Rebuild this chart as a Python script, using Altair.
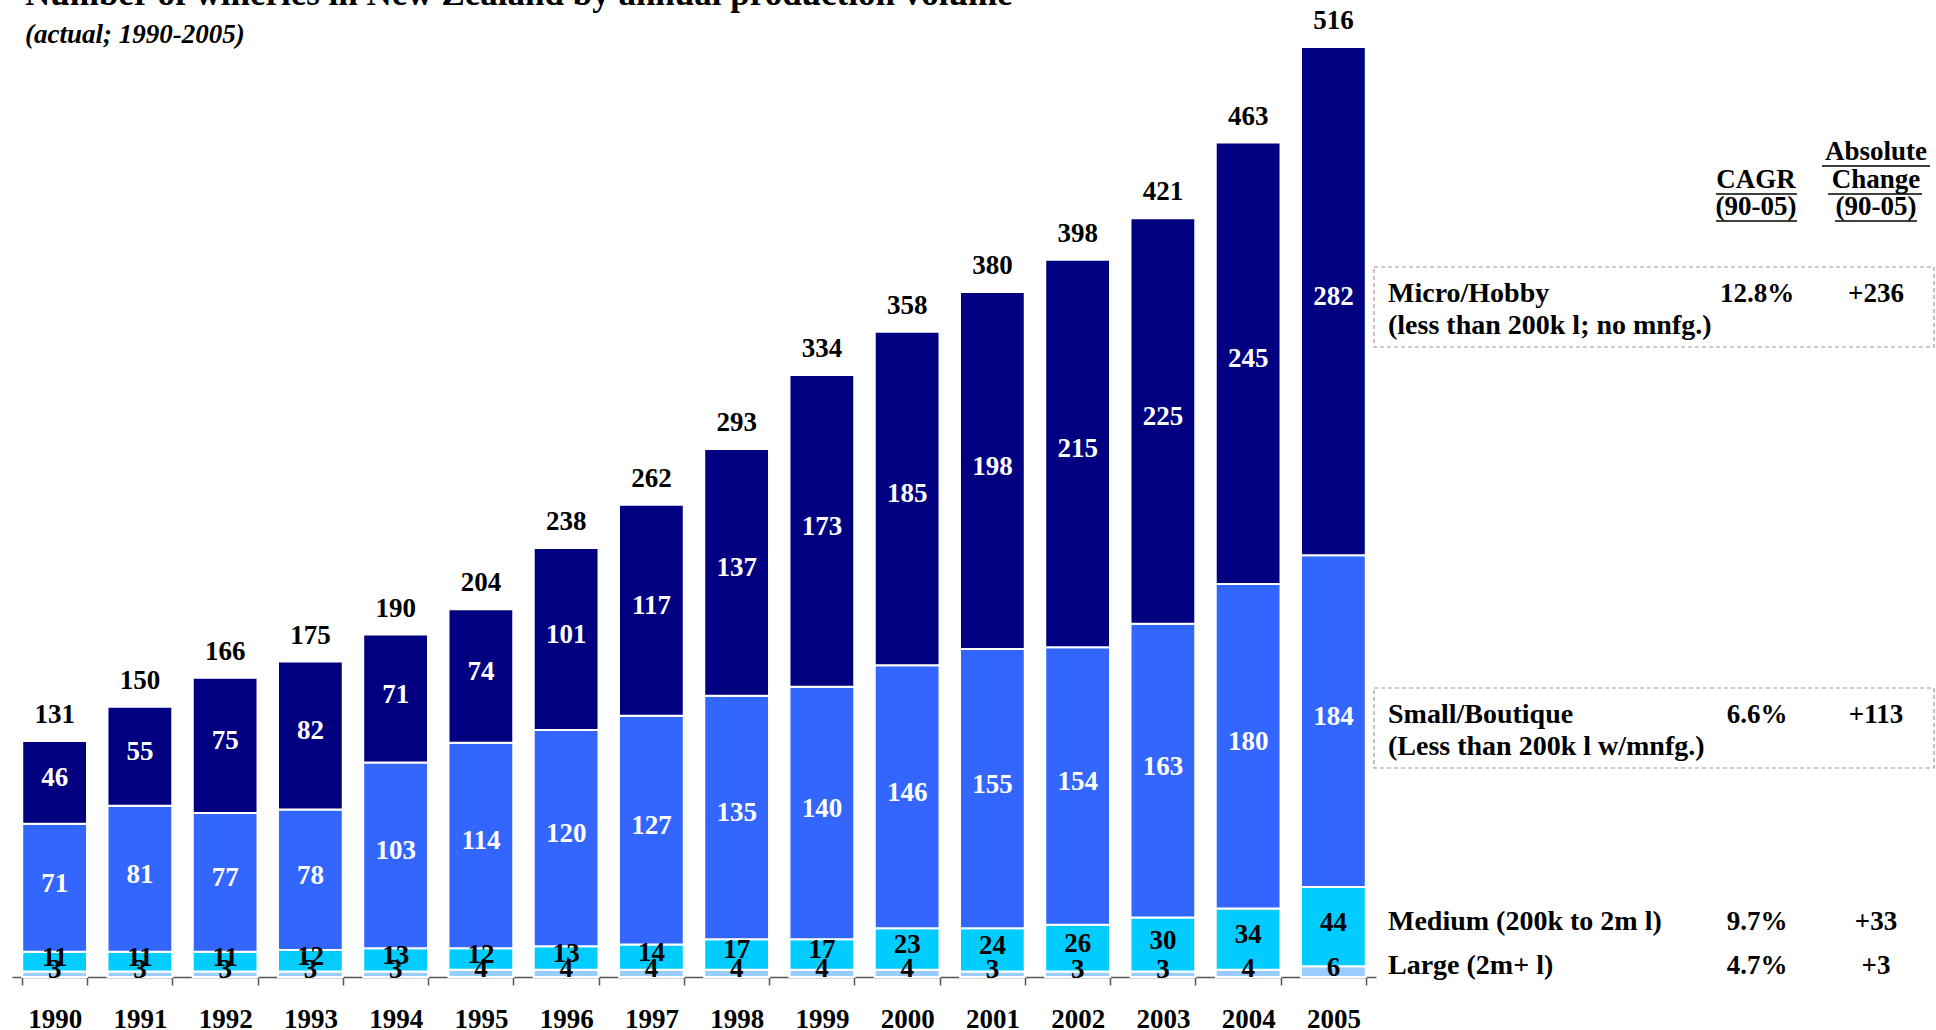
import altair as alt
import pandas as pd

# ---------------- data ----------------
years = [str(y) for y in range(1990, 2006)]
large = [3, 3, 3, 3, 3, 4, 4, 4, 4, 4, 4, 3, 3, 3, 4, 6]
medium = [11, 11, 11, 12, 13, 12, 13, 14, 17, 17, 23, 24, 26, 30, 34, 44]
small = [71, 81, 77, 78, 103, 114, 120, 127, 135, 140, 146, 155, 154, 163, 180, 184]
micro = [46, 55, 75, 82, 71, 74, 101, 117, 137, 173, 185, 198, 215, 225, 245, 282]
totals = [131, 150, 166, 175, 190, 204, 238, 262, 293, 334, 358, 380, 398, 421, 463, 516]

segments = ["Large", "Medium", "Small", "Micro"]
seg_colors = ["#99CCFF", "#00CCFF", "#3366FF", "#000080"]
seg_text_colors = ["black", "black", "white", "white"]

title_text = "Number of wineries in New Zealand by annual production volume"
subtitle_text = "(actual; 1990-2005)"

legend_names = ["Micro/Hobby", "Small/Boutique", "Medium (200k to 2m l)", "Large (2m+ l)"]
legend_sub = ["(less than 200k l; no mnfg.)", "(Less than 200k l w/mnfg.)", "", ""]
cagr = ["12.8%", "6.6%", "9.7%", "4.7%"]
abs_change = ["+236", "+113", "+33", "+3"]

FONT = "Liberation Serif"

# ---------------- layout (pixels) ----------------
PL, PT, W, H = 12, 47, 1364, 930
PR = 1936 - PL - W
PB = 1030 - PT - H


def px(x):
    return x - PL


def py(y):
    return y - PT


# ---------------- build tables ----------------
rows = []
series = [large, medium, small, micro]
for i, yr in enumerate(years):
    base = 0
    for s, name in enumerate(segments):
        v = series[s][i]
        rows.append({"year": yr, "segment": name, "value": v, "y0": base,
                     "y1": base + v, "mid": base + v / 2,
                     "tcolor": seg_text_colors[s]})
        base += v
df = pd.DataFrame(rows)
tot = pd.DataFrame({"year": years, "total": totals})

xenc = alt.X("year:O", sort=years,
             scale=alt.Scale(paddingInner=0.24, paddingOuter=0.12),
             axis=alt.Axis(title=None, labelAngle=0, labelFont=FONT,
                           labelFontWeight="bold", labelFontSize=27,
                           labelColor="black", domainColor="#555555",
                           tickColor="#555555", tickSize=8, tickBand="extent",
                           labelPadding=21, domainWidth=1.5, tickWidth=1.5,
                           grid=False))
yscale = alt.Scale(domain=[0, 516], nice=False, zero=True)

bars = alt.Chart(df).mark_bar(stroke="white", strokeWidth=2).encode(
    x=xenc,
    y=alt.Y("y0:Q", scale=yscale, axis=None),
    y2="y1:Q",
    color=alt.Color("segment:N", scale=alt.Scale(domain=segments, range=seg_colors), legend=None),
)

seg_labels = alt.Chart(df).mark_text(font=FONT, fontWeight="bold", fontSize=27,
                                     baseline="middle", dy=-4).encode(
    x=xenc,
    y=alt.Y("mid:Q", scale=yscale, axis=None),
    text="value:Q",
    color=alt.Color("tcolor:N", scale=None),
)

tot_labels = alt.Chart(tot).mark_text(font=FONT, fontWeight="bold", fontSize=27,
                                      baseline="middle", dy=-26, color="black").encode(
    x=xenc,
    y=alt.Y("total:Q", scale=yscale, axis=None),
    text="total:Q",
)

# ---------------- annotations on the right ----------------
name_y = [294, 715, 922, 966]
sub_y = [326, 747, 0, 0]
left_rows = []
center_rows = []
for k in range(4):
    left_rows.append({"t": legend_names[k], "px": px(1388), "py": py(name_y[k])})
    if legend_sub[k]:
        left_rows.append({"t": legend_sub[k], "px": px(1388), "py": py(sub_y[k])})
    center_rows.append({"t": cagr[k], "px": px(1757), "py": py(name_y[k])})
    center_rows.append({"t": abs_change[k], "px": px(1876), "py": py(name_y[k])})

headers = [("CAGR", 1756, 180, 1716, 1797),
           ("(90-05)", 1756, 207, 1716, 1797),
           ("Absolute", 1876, 152, 1822, 1930),
           ("Change", 1876, 180, 1828, 1922),
           ("(90-05)", 1876, 207, 1835, 1917)]
for h in headers:
    center_rows.append({"t": h[0], "px": px(h[1]), "py": py(h[2])})
ul = pd.DataFrame([{"x0": px(h[3]), "x1": px(h[4]), "yy": py(h[2] + 14)} for h in headers])

left_df = pd.DataFrame(left_rows)
center_df = pd.DataFrame(center_rows)

XP = lambda f: alt.X(f, scale=None, axis=None)
YP = lambda f: alt.Y(f, scale=None, axis=None)

left_text = alt.Chart(left_df).mark_text(font=FONT, fontWeight="bold", fontSize=28,
                                         align="left", baseline="middle", color="black").encode(
    x=XP("px:Q"), y=YP("py:Q"), text="t:N")
center_text = alt.Chart(center_df).mark_text(font=FONT, fontWeight="bold", fontSize=27,
                                             align="center", baseline="middle", color="black").encode(
    x=XP("px:Q"), y=YP("py:Q"), text="t:N")
underlines = alt.Chart(ul).mark_rule(color="black", strokeWidth=1.5).encode(
    x=XP("x0:Q"), x2="x1:Q", y=YP("yy:Q"))

boxes_df = pd.DataFrame({"x0": [px(1374), px(1374)], "x1": [px(1934), px(1934)],
                         "y0": [py(267), py(688)], "y1": [py(347), py(768)]})
boxes = alt.Chart(boxes_df).mark_rect(filled=False, stroke="#999999", strokeWidth=1.2,
                                      strokeDash=[4, 3]).encode(
    x=XP("x0:Q"), x2="x1:Q", y=YP("y0:Q"), y2="y1:Q")

title_df = pd.DataFrame({"t": [title_text], "px": [px(25)], "py": [py(5)]})
title = alt.Chart(title_df).mark_text(font=FONT, fontWeight="bold", fontSize=35,
                                      align="left", baseline="alphabetic", color="black").encode(
    x=XP("px:Q"), y=YP("py:Q"), text="t:N")
sub_df = pd.DataFrame({"t": [subtitle_text], "px": [px(25)], "py": [py(35)]})
subtitle = alt.Chart(sub_df).mark_text(font=FONT, fontWeight="bold", fontStyle="italic",
                                       fontSize=27, align="left", baseline="middle",
                                       color="black").encode(
    x=XP("px:Q"), y=YP("py:Q"), text="t:N")

chart = alt.layer(bars, seg_labels, tot_labels, boxes, underlines, left_text,
                  center_text, title, subtitle).properties(
    width=W, height=H,
    autosize=alt.AutoSizeParams(type="none"),
    padding={"left": PL, "top": PT, "right": PR, "bottom": PB},
    background="white",
).configure_view(stroke=None)

chart.save("out.html", embed_options={"renderer": "svg", "actions": False})
